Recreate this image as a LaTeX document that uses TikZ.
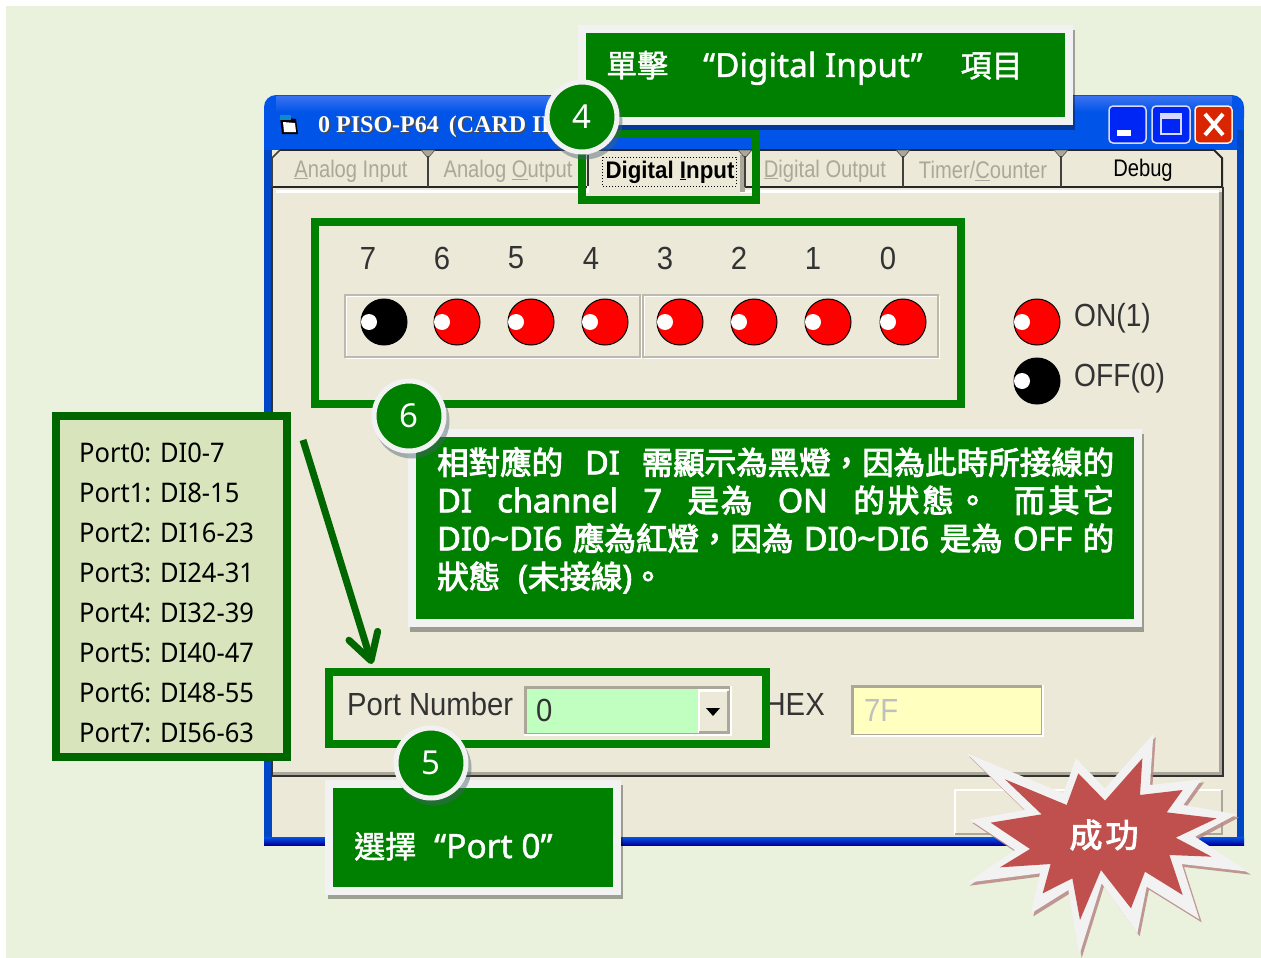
\documentclass[tikz,border=0pt]{standalone}
\usepackage{fontspec}
\setmainfont{Noto Sans}
\newfontfamily\cjkf[FakeBold=1.5]{Noto Sans CJK TC}
\newfontfamily\cjkb[FakeBold=3]{Noto Sans CJK TC}
\newfontfamily\latb[FakeBold=2.5]{Noto Sans}
\newfontfamily\latm[FakeBold=1.2]{Noto Sans}
\newfontfamily\portf[FakeStretch=0.945]{Noto Sans}
\newfontfamily\uif[FakeStretch=0.915]{Liberation Sans}
\newfontfamily\uin[FakeStretch=0.84]{Liberation Sans}
\newfontfamily\uib[FakeStretch=0.93]{Liberation Sans}
\newfontfamily\uil[FakeStretch=0.88]{Liberation Sans}
\newfontfamily\titlef{Liberation Serif}
\usetikzlibrary{arrows.meta,calc}
\definecolor{pagegreen}{RGB}{234,241,221}
\definecolor{winface}{RGB}{236,233,216}
\definecolor{frameg}{RGB}{0,128,0}
\definecolor{darkg}{RGB}{0,102,0}
\definecolor{listfill}{RGB}{216,228,188}
\definecolor{paper}{RGB}{242,242,242}
\definecolor{xpblue}{RGB}{0,84,232}
\definecolor{tabgrey}{RGB}{172,168,153}
\definecolor{edgegrey}{RGB}{172,168,153}
\definecolor{starred}{RGB}{192,80,77}
\definecolor{combogreen}{RGB}{192,255,192}
\definecolor{hexyellow}{RGB}{255,255,192}
\tikzset{
  calloutbox/.style={rectangle,draw=paper,fill=frameg,line width=8pt,inner sep=0pt,outer sep=0pt},
  framebox/.style={rectangle,draw=frameg,line width=8pt,inner sep=0pt,outer sep=0pt},
  badge/.style={circle,draw=paper,fill=frameg,line width=5pt,minimum size=70pt,inner sep=0pt,outer sep=0pt,text=white,font=\fontsize{33}{33}\selectfont},
  ledon/.style={circle,draw=black,line width=1pt,fill=red,minimum size=46pt,inner sep=0pt},
  ledoff/.style={circle,draw=black,line width=1pt,fill=black,minimum size=46pt,inner sep=0pt},
  ledglint/.style={circle,fill=white,minimum size=16pt,inner sep=0pt},
  uitext/.style={inner sep=0pt,text=black!80,font=\uif\fontsize{32}{32}\selectfont},
  tabtext/.style={inner sep=0pt,text=tabgrey,font=\uin\fontsize{24}{24}\selectfont},
  calltext/.style={inner sep=0pt,anchor=base west,text=white},
  portline/.style={inner sep=0pt,anchor=west,text=black,font=\portf\fontsize{27}{27}\selectfont},
}
\newcommand{\boxshade}[4]{\fill[black,opacity=.33] (#1+2,#2+5) rectangle (#3+2,#4+5);}
\newcommand{\sunkenframe}[5]{%
  \fill[white] (#1,#2) rectangle (#3,#4);
  \fill[edgegrey] (#1,#2) rectangle (#3-2,#4-2);
  \fill[#5] (#1+3,#2+3) rectangle (#3-3,#4-3);}
\newcommand{\tabnotch}[1]{%
  \fill[edgegrey,draw=black!70,line width=.6pt] (#1-7,150) -- (#1+7,150) -- (#1,158) -- cycle;
  \draw[black!75,line width=2pt] (#1,156) -- (#1,187);}
\begin{document}
\begin{tikzpicture}[x=1pt,y=-1pt]
\useasboundingbox (0,0) rectangle (1261,958);
\fill[white] (0,0) rectangle (1261,958);
\fill[pagegreen] (6,6) rectangle (1261,958);

% window
\fill[xpblue,rounded corners=12pt] (264,95) -- (1244,95) -- (1244,130) -- (264,130) -- cycle;
\shade[top color=xpblue!75!white!90!blue,bottom color=xpblue] (276,96) rectangle (1232,112);
\fill[xpblue!85!black] (264,112) rectangle (272,845);
\fill[xpblue] (264,112) rectangle (1244,150);
\fill[xpblue!85!black] (1237,130) rectangle (1244,845);
\shade[top color=xpblue,bottom color=blue!60!black] (264,837) rectangle (1244,845);
\fill[winface] (272,150) rectangle (1237,837);
% title
\node[inner sep=0pt,anchor=base west,text=black!70,font=\titlef\bfseries\fontsize{24}{24}\selectfont] (titleshade) at (319.5,133.5) {0 PISO-P64\hspace{4pt} (CARD ID};
\node[inner sep=0pt,anchor=base west,text=white,font=\titlef\bfseries\fontsize{24}{24}\selectfont] (titletext) at (318,132) {0 PISO-P64\hspace{4pt} (CARD ID};
\fill[black] (280,117) -- (296,119) -- (298,134) -- (282,134) -- cycle;
\fill[white] (283,122) -- (295,123) -- (296,132) -- (284,132) -- cycle;
\fill[cyan!70!blue] (280,115) rectangle (291,120);
% caption buttons
\fill[blue!55!xpblue,draw=white!85!blue,line width=1.5pt,rounded corners=4pt] (1109,106) rectangle (1146,143);
\fill[white] (1117,130) rectangle (1131,136);
\fill[blue!55!xpblue,draw=white!85!blue,line width=1.5pt,rounded corners=4pt] (1152,106) rectangle (1190,143);
\draw[white!85!blue,line width=2pt] (1161,114) rectangle (1181,134);
\fill[white!85!blue] (1161,114) rectangle (1181,119);
\fill[red!65!orange!85!black,draw=white!85!orange,line width=1.5pt,rounded corners=4pt] (1195,106) rectangle (1232,143);
\draw[white,line width=4pt] (1205,114) -- (1223,135) (1223,114) -- (1205,135);

% tab strip and panel
\draw[black!85,line width=2pt] (272,187) -- (590,187) (745,187) -- (1222,187);
\draw[black!85,line width=2pt] (280,150) -- (1214,150);
\draw[black!75,line width=2pt] (272,158) -- (272,187);
\draw[black!75,line width=1.5pt] (272,158) -- (280,150);
\draw[black!85,line width=2pt] (1214,150) -- (1222,158) -- (1222,187);
\fill[white] (276,190) rectangle (1219,193);
\fill[white] (587,186) rectangle (741,192);
\fill[winface] (589,152) rectangle (740,197);
\draw[black!80,line width=1.5pt] (588,155) -- (588,186);
\fill[edgegrey] (740,155) rectangle (745,192);
\tabnotch{428}\tabnotch{745}\tabnotch{903}\tabnotch{1061}
\draw[black!80,line width=2pt] (272,187) -- (272,776) -- (1223,776) -- (1223,187);
\draw[edgegrey,line width=3pt] (273,773) -- (1220,773) -- (1220,192);
\node[tabtext] (tabai) at (351,171) {\underline{A}nalog Input};
\node[tabtext] (tabao) at (508,171) {Analog \underline{O}utput};
\node[inner sep=0pt,text=black,font=\uib\bfseries\fontsize{24}{24}\selectfont] (tabdi) at (670,172) {Digital \underline{I}nput};
\draw[black,line width=1pt,dotted] (602,157) rectangle (736,186);
\node[tabtext] (tabdo) at (825,171) {\underline{D}igital Output};
\node[tabtext] (tabtc) at (983,171) {Timer/\underline{C}ounter};
\node[tabtext,text=black] (tabdb) at (1143,170) {Debug};

% LED group frames
\draw[white,line width=1pt] (346,296) rectangle (641,358);
\draw[edgegrey!80!white,line width=1.5pt] (345,295) rectangle (640,357);
\draw[white,line width=1pt] (644,296) rectangle (939,358);
\draw[edgegrey!80!white,line width=1.5pt] (643,295) rectangle (938,357);
\foreach \lx/\dx/\d/\st in {384/368/7/ledoff,457/442/6/ledon,531/516/5/ledon,605/591/4/ledon,680/665/3/ledon,754/739/2/ledon,828/813/1/ledon,903/888/0/ledon}{
  \node[uitext] (digit\d) at (\dx,258) {\d};
  \node[\st] (led\d) at (\lx,322) {};
  \node[ledglint] (glint\d) at (\lx-15,322) {};
}
% legend
\node[ledon] (legon) at (1037,322) {};
\node[ledglint] (legonglint) at (1022,322) {};
\node[ledoff] (legoff) at (1037,381) {};
\node[ledglint] (legoffglint) at (1022,381) {};
\node[uitext,anchor=west,font=\uil\fontsize{32}{32}\selectfont] (legontext) at (1074,318) {ON(1)};
\node[uitext,anchor=west,font=\uil\fontsize{32}{32}\selectfont] (legofftext) at (1074,378) {OFF(0)};

% port row
\node[uitext,anchor=west] (portlabel) at (347,704) {Port Number};
\sunkenframe{524}{686}{732}{736}{white}
\fill[combogreen] (527,689) rectangle (698,733);
\fill[winface] (698,690) rectangle (729,733);
\draw[white,line width=1.5pt] (699,733) -- (699,691) -- (728,691);
\draw[edgegrey,line width=2pt] (699,732) -- (728,732) -- (728,691);
\fill[black] (706,708) -- (720,708) -- (713,716) -- cycle;
\node[uitext,anchor=west] (portvalue) at (536,710) {0};
\node[uitext,anchor=east] (hexlabel) at (825,704) {HEX};
\sunkenframe{851}{685}{1044}{737}{hexyellow}
\node[uitext,anchor=west,text=black!25] (hexvalue) at (864,710) {7F};
% bottom button
\draw[white,line width=2pt] (955,835) -- (955,790) -- (1222,790);
\draw[edgegrey,line width=2.5pt] (955,834) -- (1222,834) -- (1222,790);

% green highlight frames
\node[framebox,minimum width=646pt,minimum height=182pt] (difr) at (637.5,313) {};
\node[framebox,minimum width=174pt,minimum height=66pt] (tabfr) at (669,167) {};
\node[framebox,minimum width=437pt,minimum height=72pt] (portfr) at (547.5,708) {};

% callout 4
\boxshade{578}{25}{1073}{125}
\node[calloutbox,minimum width=487pt,minimum height=92pt] (call4) at (825.5,75) {};
\node[calltext,font=\latm\fontsize{33.3}{33.3}\selectfont] (call4text) at (606,77) {{\cjkf\fontsize{31}{31}\selectfont 單擊}\hspace{35pt}“Digital Input”\hspace{38pt}{\cjkf\fontsize{31}{31}\selectfont 項目}};
% callout 6
\boxshade{408}{429}{1142}{627}
\node[calloutbox,minimum width=726pt,minimum height=190pt] (call6) at (775,528) {};
\node[inner sep=0pt,anchor=north west,text=white,align=left,font=\latb\fontsize{32.5}{38}\selectfont] (call6text) at (437,447) {%
\makebox[677pt][s]{{\cjkb\fontsize{31.5}{38}\selectfont 相對應的}\hfil{\latb DI}\hfil{\cjkb\fontsize{31.5}{38}\selectfont 需顯示為黑燈，因為此時所接線的}}\\
\makebox[677pt][s]{{\latb DI}\hfil{\latb channel}\hfil{\latb 7}\hfil{\cjkb\fontsize{31.5}{38}\selectfont 是\hspace{2pt}為}\hfil{\latb ON}\hfil{\cjkb\fontsize{31.5}{38}\selectfont 的\hspace{3pt}狀\hspace{3pt}態\hspace{3pt}。}\hfil{\cjkb\fontsize{31.5}{38}\selectfont 而\hspace{3pt}其\hspace{3pt}它}}\\
\makebox[677pt][s]{{\latb DI0\textasciitilde DI6}\hfil{\cjkb\fontsize{31.5}{38}\selectfont 應為紅燈，因為}\hfil{\latb DI0\textasciitilde DI6}\hfil{\cjkb\fontsize{31.5}{38}\selectfont 是為}\hfil{\latb OFF}\hfil{\cjkb\fontsize{31.5}{38}\selectfont 的}}\\
{\cjkb\fontsize{31.5}{38}\selectfont 狀態}\hspace{18pt}({\cjkb\fontsize{31.5}{38}\selectfont 未接線})\hspace{0pt}{\cjkb\fontsize{31.5}{38}\selectfont 。}};
% callout 5
\boxshade{326}{780}{621}{894}
\node[calloutbox,minimum width=288pt,minimum height=107pt] (call5) at (473,837.5) {};
\node[calltext,font=\latm\fontsize{33.5}{33.5}\selectfont] (call5text) at (354,858) {{\cjkf\fontsize{31}{31}\selectfont 選擇}\hspace{18pt}“Port 0”};

% port list
\node[rectangle,draw=darkg,fill=listfill,line width=8pt,minimum width=231pt,minimum height=341pt,inner sep=0pt,outer sep=0pt] (portlist) at (171,586.5) {};
\foreach \i/\t in {0/DI0-7,1/DI8-15,2/DI16-23,3/DI24-31,4/DI32-39,5/DI40-47,6/DI48-55,7/DI56-63}{
  \node[portline] (port\i) at (79,453+\i*40) {Port\i: \t};
}
% arrow
\coordinate (arrowtail) at (303,440);
\draw[darkg,line width=7pt,-{Straight Barb[length=26pt,width=30pt,line width=7pt,round]}] (arrowtail) -- ($(portfr.north west)+(43,-8)$);

% badges
\foreach \n/\bx/\by in {4/582/118,6/409/417,5/431/764}{
  \fill[black!65!cyan,opacity=.45] (\bx+3,\by+4) circle (37.5);
  \node[badge] (badge\n) at (\bx,\by-1) {};
  \node[inner sep=0pt,text=white,font=\fontsize{33}{33}\selectfont] (digitbadge\n) at (\bx,\by-1) {\n};
}

% burst
\begin{scope}[shift={(740,660)},scale=0.33333]
\fill[black!30!starred!60!white,opacity=.85,shift={(7,9)}] (680,280) -- (970,400) -- (1008,295) -- (1095,385) -- (1240,222) -- (1230,375) -- (1385,358) -- (1330,435) -- (1490,463) -- (1365,530) -- (1525,635) -- (1325,612) -- (1378,778) -- (1220,680) -- (1192,820) -- (1085,670) -- (1018,885) -- (985,690) -- (873,760) -- (900,640) -- (682,668) -- (825,570) -- (690,480) -- (855,450) -- cycle;
\fill[paper] (680,280) -- (970,400) -- (1008,295) -- (1095,385) -- (1240,222) -- (1230,375) -- (1385,358) -- (1330,435) -- (1490,463) -- (1365,530) -- (1525,635) -- (1325,612) -- (1378,778) -- (1220,680) -- (1192,820) -- (1085,670) -- (1018,885) -- (985,690) -- (873,760) -- (900,640) -- (682,668) -- (825,570) -- (690,480) -- (855,450) -- cycle;
\fill[starred] (795,358) -- (980,435) -- (1015,340) -- (1095,422) -- (1207,295) -- (1200,405) -- (1328,390) -- (1280,457) -- (1430,475) -- (1307,533) -- (1415,590) -- (1288,585) -- (1328,705) -- (1215,635) -- (1173,745) -- (1083,630) -- (1020,780) -- (997,655) -- (908,700) -- (932,612) -- (780,622) -- (870,567) -- (752,488) -- (905,463) -- cycle;
\end{scope}
\node[inner sep=0pt,text=white,font=\cjkb\fontsize{33}{33}\selectfont] (bursttext) at (1104,835) {成\hspace{3pt}功};
\end{tikzpicture}
\end{document}
